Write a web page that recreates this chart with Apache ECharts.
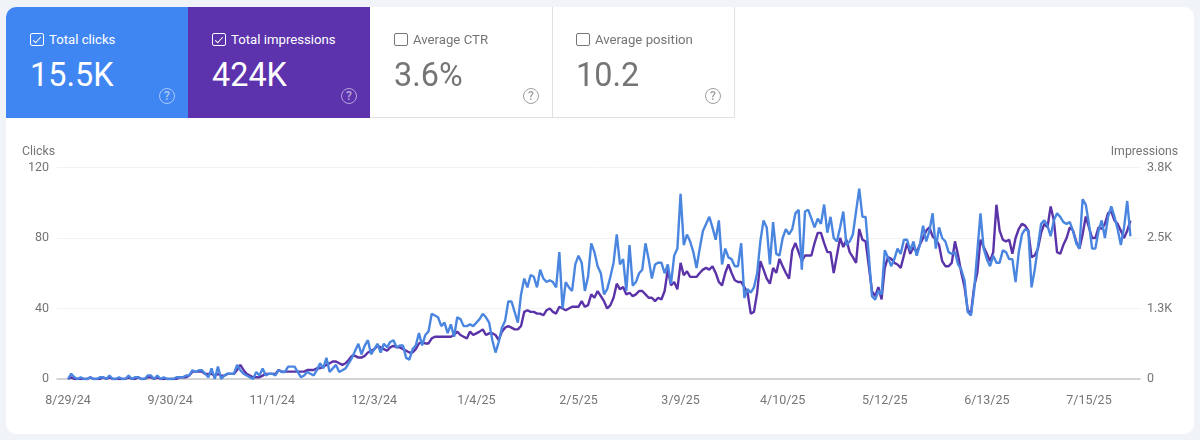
<!doctype html>
<html>
	<head>
		<meta charset="UTF-8">
		<title>Search performance</title>
		<script src="https://cdn.jsdelivr.net/npm/echarts@6/dist/echarts.min.js"></script>
		<style>
			html,body{margin:0;padding:0;width:1200px;height:440px;overflow:hidden;background:#f0f4f9;font-family:Roboto,sans-serif;}
			.panel{position:absolute;left:6px;top:7px;width:1188px;height:427px;background:#fff;border-radius:10px;overflow:hidden;}
			#main{position:absolute;left:0;top:0;width:1200px;height:440px;}
			.tile{position:absolute;top:7px;width:183px;height:111px;box-sizing:border-box;color:#757575;border-bottom:1px solid #e0e0e0;border-right:1px solid #e0e0e0;}
			.tile.on{color:#fff;border:0;width:182px;}
			.tile .box{position:absolute;left:24px;top:26px;width:12px;height:11px;border:1.2px solid currentColor;border-radius:2px;}
			.tile .box.tick:after{content:"";position:absolute;left:4px;top:1px;width:3px;height:7px;border:solid currentColor;border-width:0 1.5px 1.5px 0;transform:rotate(42deg);}
			.tile .name{position:absolute;left:43px;top:24px;font-size:13.2px;line-height:18px;white-space:nowrap;}
			.tile .num{position:absolute;left:24px;top:49px;font-size:32.4px;line-height:38px;white-space:nowrap;}
			.tile .help{position:absolute;left:153px;top:81px;width:14px;height:14px;border:1.5px solid currentColor;border-radius:50%;font-size:12px;font-weight:500;line-height:14px;text-align:center;opacity:.7;}
			.tile.on .help{opacity:.55;}
		</style>
	</head>
	<body>
		<div class="panel"></div>
		<div id="main"></div>
		<script type="text/javascript">
			var tileNames = ['Total clicks','Total impressions','Average CTR','Average position'];
			var tileValues = ['15.5K','424K','3.6%','10.2'];
			var tileColors = ['#4086f3','#5d33ad','',''];
			var tileChecked = [true,true,false,false];

			var xTickDays = [0,32,64,96,128,160,192,224,256,288,320];
			var xTickLabels = ['8/29/24','9/30/24','11/1/24','12/3/24','1/4/25','2/5/25','3/9/25','4/10/25','5/12/25','6/13/25','7/15/25'];
			var rightTickLabels = ['0','1.3K','2.5K','3.8K'];

			//one value per day, starting 8/29/24
			var clicks = [
				0,3,1,0,1,0,0,1,0,0,1,1,0,2,0,0,1,0,0,2,0,1,1,0,0,2,2,0,2,0,1,0,
				0,0,1,1,1,2,2,5,4,5,5,3,1,6,0,7,0,2,3,3,3,8,5,3,2,1,0,4,2,6,2,3,3,
				2,5,4,4,7,7,7,4,1,2,4,3,2,5,9,6,12,4,6,8,4,5,6,9,12,16,20,14,19,22,14,17,
				20,15,20,18,21,22,18,19,19,12,11,17,19,26,19,25,27,37,36,35,30,32,26,31,24,35,34,30,30,31,30,32,
				34,37,35,32,22,15,21,29,33,44,44,38,32,48,57,52,59,58,52,62,57,55,56,55,52,72,40,55,52,50,65,70,
				66,50,58,77,72,64,60,48,51,58,66,82,65,68,50,76,53,55,60,62,77,68,57,65,66,66,60,65,54,70,74,105,
				76,82,78,72,63,74,84,88,92,86,79,90,65,74,69,68,64,64,77,46,51,49,52,60,78,90,86,65,89,71,70,80,
				85,82,85,94,96,62,95,96,91,86,91,88,99,83,92,80,78,86,95,76,78,82,95,108,92,92,70,47,45,50,48,73,
				69,64,68,74,71,79,79,73,78,70,76,87,78,84,94,74,86,80,78,72,71,72,65,62,56,38,36,50,72,94,74,68,
				64,70,66,66,73,72,68,68,55,72,82,85,84,52,62,75,88,90,87,81,90,94,92,89,88,89,84,77,74,102,99,88,
				74,74,84,90,80,92,98,92,85,76,86,101,81
			];
			var impressions = [
				0,30,0,0,0,0,0,30,0,0,0,30,0,30,0,0,0,0,0,30,0,0,30,0,0,30,30,0,30,0,0,0,
				0,0,0,30,30,30,60,130,130,130,130,90,90,90,60,90,60,60,90,90,90,160,250,160,90,60,30,30,30,60,90,90,90,
				90,160,130,130,130,130,130,130,130,130,160,160,160,190,190,220,250,280,310,310,280,250,280,340,410,410,380,380,410,470,500,530,
				590,560,530,500,560,590,560,560,530,500,470,470,530,630,660,630,630,720,750,750,750,750,750,750,780,840,780,750,720,840,780,810,
				840,880,780,810,810,780,690,840,910,940,910,880,880,940,1190,1220,1190,1190,1160,1160,1130,1220,1250,1190,1160,1280,1250,1220,1250,1280,1280,1280,
				1380,1280,1310,1500,1440,1560,1470,1380,1250,1310,1440,1690,1590,1630,1500,1530,1470,1500,1560,1560,1500,1440,1440,1380,1440,1410,1560,1940,1660,1720,1590,2060,
				1840,1910,1810,1810,1810,1880,1940,1970,1940,2000,1880,1720,1660,1880,2030,1880,1750,1720,1720,1630,1530,1160,1190,1530,2090,1940,1780,1690,1970,1880,2130,2000,
				1880,1780,2280,2410,2250,2090,2190,2190,2190,2410,2590,2590,2410,2250,2250,1880,2190,2500,2340,2470,2250,2160,2060,2660,2470,2440,2000,1560,1470,1630,1410,1970,
				2160,2130,2060,2030,1970,2190,2410,2220,2340,2250,2380,2500,2630,2690,2530,2470,2380,2090,2000,2000,2060,2440,2190,1880,1630,1220,1160,1630,1880,2470,2340,2220,
				2090,2250,3090,2630,2470,2440,2470,2220,2500,2660,2750,2720,2630,2160,2190,2310,2590,2750,2690,3060,2810,2250,2220,2380,2500,2690,2630,2440,2310,2560,2880,2690,
				2500,2500,2690,2660,2750,2940,2970,2810,2750,2630,2500,2630,2810
			];

			//tiles above the chart
			for(var i=0;i<tileNames.length;i++){
				var tile = document.createElement('div');
				tile.className = 'tile'+(tileChecked[i]?' on':'');
				tile.style.left = (6+i*182)+'px';
				if(tileColors[i]) tile.style.background = tileColors[i];
				if(i==0) tile.style.borderTopLeftRadius = '10px';
				tile.innerHTML = '<div class="box'+(tileChecked[i]?' tick':'')+'"></div>'
					+'<div class="name">'+tileNames[i]+'</div>'
					+'<div class="num">'+tileValues[i]+'</div>'
					+'<div class="help">?</div>';
				document.body.appendChild(tile);
			}

			function pairs(list){
				var out = [];
				for(var i=0;i<list.length;i++) out.push([i,list[i]]);
				return out;
			}

			var axisText = {color:'#757575',fontFamily:'Roboto',fontSize:12.5};
			var nameText = {color:'#757575',fontFamily:'Roboto',fontSize:12.3};
			var gridLine = {show:true,lineStyle:{color:'#f2f2f2',width:1}};
			var myChart = echarts.init(document.getElementById('main'));
			myChart.setOption({
				animation:false,
				grid:{left:57,right:60,top:167.5,bottom:61},
				xAxis:{
					type:'value',
					min:-3.45,
					max:336,
					splitLine:{show:false},
					axisTick:{show:false},
					axisLine:{show:true,lineStyle:{color:'#c6c6c6',width:1.5}},
					axisLabel:Object.assign({},axisText,{
						margin:15,
						customValues:xTickDays,
						formatter:function(v){return xTickLabels[xTickDays.indexOf(v)];}
					})
				},
				yAxis:[
					{
						type:'value',min:0,max:120,interval:40,
						name:'Clicks',
						nameLocation:'end',
						nameGap:10,
						nameTextStyle:Object.assign({},nameText,{align:'right',padding:[0,13,0,0]}),
						axisLine:{show:false},axisTick:{show:false},
						axisLabel:Object.assign({},axisText,{margin:8}),
						splitLine:gridLine
					},
					{
						type:'value',min:0,max:3750,interval:1250,
						name:'Impressions',
						nameLocation:'end',
						nameGap:10,
						nameTextStyle:Object.assign({},nameText,{align:'center',padding:[0,0,0,9]}),
						axisLine:{show:false},axisTick:{show:false},
						axisLabel:Object.assign({},axisText,{
							margin:7,
							formatter:function(v){return rightTickLabels[v/1250];}
						}),
						splitLine:{show:false}
					}
				],
				series:[
					{
						name:'Impressions',type:'line',yAxisIndex:1,data:pairs(impressions),
						showSymbol:false,symbol:'none',
						lineStyle:{color:'#5a33a8',width:2.4},
						z:2
					},
					{
						name:'Clicks',type:'line',yAxisIndex:0,data:pairs(clicks),
						showSymbol:false,symbol:'none',
						lineStyle:{color:'#4a86e0',width:2.4},
						z:3
					}
				]
			});
		</script>
	</body>
</html>
